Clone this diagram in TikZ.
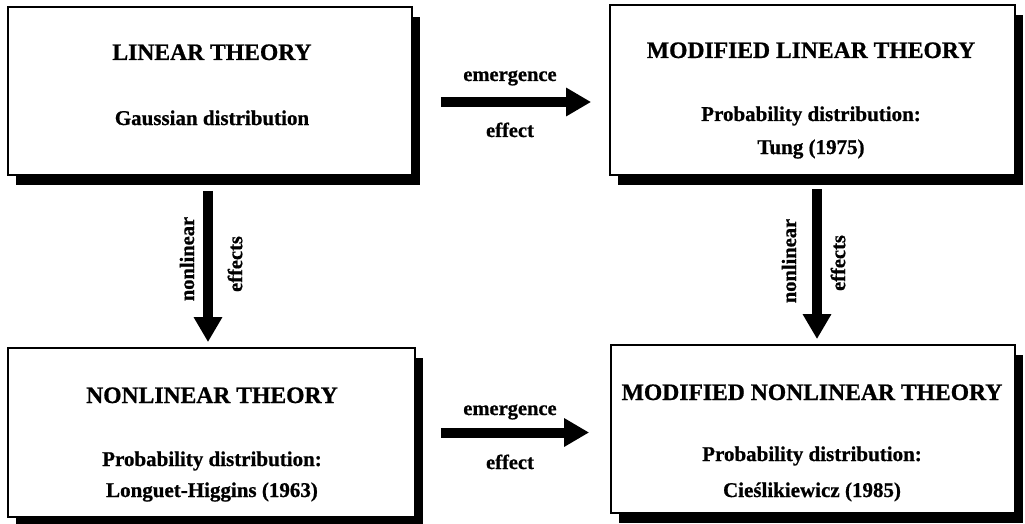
\documentclass[tikz,border=0pt]{standalone}
\usepackage{fontspec}
\setmainfont{Liberation Serif}[BoldFont={Liberation Serif Bold}, BoldFeatures={FakeBold=0.8}]
\usetikzlibrary{arrows.meta,shadows}
\begin{document}
\begin{tikzpicture}[x=1pt,y=-1pt,
 box/.style={draw=black, line width=1.8pt, fill=white, inner sep=0pt,
   drop shadow={shadow xshift=8pt, shadow yshift=-10pt, fill=black, opacity=1}},
 ttl/.style={font=\bfseries\fontsize{23.6}{28}\selectfont, inner sep=0pt, anchor=base},
 sub/.style={font=\bfseries\fontsize{21}{25}\selectfont, inner sep=0pt, anchor=base},
 lbl/.style={font=\bfseries\fontsize{20.5}{24}\selectfont, inner sep=0pt},
 bigarrow/.style={line width=10pt, -{Triangle[length=25pt,width=27pt]}}]
\useasboundingbox (0,0) rectangle (1025,524);
% boxes
\node[box, minimum width=404pt, minimum height=168pt] (b1) at (210,91) {};
\node[box, minimum width=405pt, minimum height=170pt] (b2) at (812.5,90) {};
\node[box, minimum width=407pt, minimum height=169pt] (b3) at (211.5,432.5) {};
\node[box, minimum width=404pt, minimum height=168pt] (b4) at (813,429) {};
% texts
\node[ttl] (t1a) at (212,60) {LINEAR THEORY};
\node[sub] (t1b) at (212,125) {Gaussian distribution};
\node[ttl] (t2a) at (811,58) {MODIFIED LINEAR THEORY};
\node[sub] (t2b) at (811,121) {Probability distribution:};
\node[sub] (t2c) at (811,154) {Tung (1975)};
\node[ttl] (t3a) at (212,403) {NONLINEAR THEORY};
\node[sub] (t3b) at (212,466) {Probability distribution:};
\node[sub] (t3c) at (212,497) {Longuet-Higgins (1963)};
\node[ttl] (t4a) at (812,400) {MODIFIED NONLINEAR THEORY};
\node[sub] (t4b) at (812,461) {Probability distribution:};
\node[sub] (t4c) at (812,497) {Cieślikiewicz (1985)};
% arrows
\draw[bigarrow, shorten <=28pt, shorten >=18pt] ([yshift=-11pt]b1.east) -- ([yshift=-11pt]b1.east -| b2.west);
\draw[bigarrow, shorten <=25pt, shorten >=21pt] (b3.east) -- (b3.east -| b4.west);
\draw[bigarrow, shorten <=15pt, shorten >=5pt] ([xshift=-2pt]b1.south) -- ([xshift=-2pt]b1.south |- b3.north);
\draw[bigarrow, shorten <=13pt, shorten >=5pt] ([xshift=4.5pt]b2.south) -- ([xshift=4.5pt]b2.south |- b4.north);
% arrow labels
\node[lbl, anchor=base] (e1a) at (510,81) {emergence};
\node[lbl, anchor=base] (e1b) at (510,137) {effect};
\node[lbl, anchor=base] (e2a) at (510,415) {emergence};
\node[lbl, anchor=base] (e2b) at (510,469) {effect};
\node[lbl, rotate=90] (n1a) at (187,259) {nonlinear};
\node[lbl, rotate=90] (n1b) at (235,264) {effects};
\node[lbl, rotate=90] (n2a) at (789,261) {nonlinear};
\node[lbl, rotate=90] (n2b) at (838,263) {effects};
\end{tikzpicture}
\end{document}
